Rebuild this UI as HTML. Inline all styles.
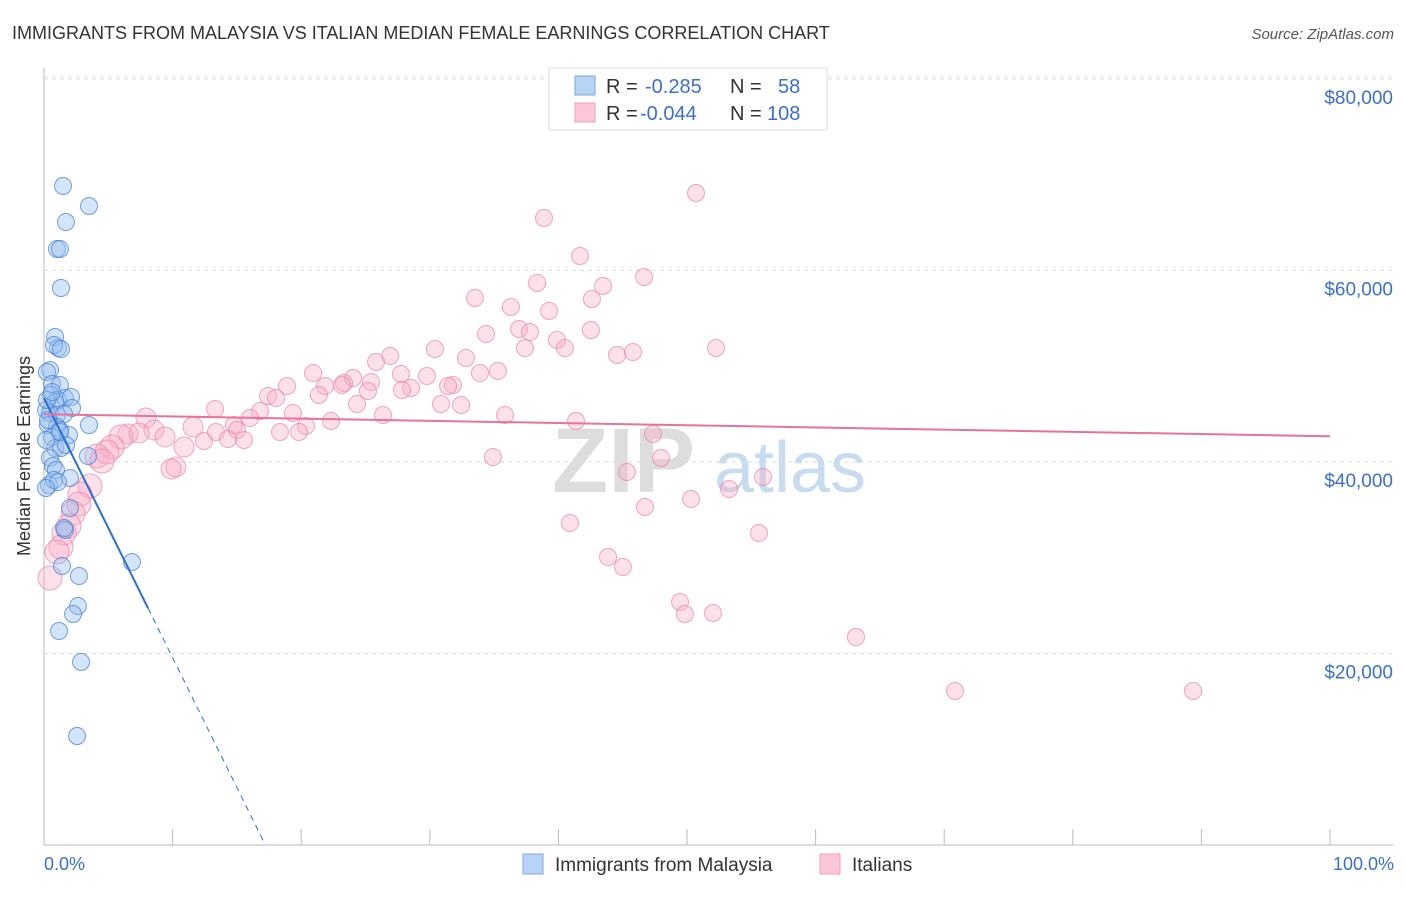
<!DOCTYPE html>
<html><head><meta charset="utf-8"><style>
body{margin:0;background:#fff;font-family:"Liberation Sans",sans-serif;}
svg text{font-family:"Liberation Sans",sans-serif;}
</style></head><body>
<svg id="chart" width="1406" height="892" viewBox="0 0 1406 892">
<text x="12" y="39" font-size="18" fill="#333">IMMIGRANTS FROM MALAYSIA VS ITALIAN MEDIAN FEMALE EARNINGS CORRELATION CHART</text>
<text x="1394" y="39" font-size="15" fill="#555" font-style="italic" text-anchor="end">Source: ZipAtlas.com</text>
<text x="30" y="456" font-size="18" fill="#333" text-anchor="middle" transform="rotate(-90 30 456)">Median Female Earnings</text>
<g id="grid"></g>
<g id="watermark">
<text x="552" y="492" font-size="92" fill="#ddd" font-family="Liberation Serif" font-weight="bold">ZIP</text>
<text x="714" y="492" font-size="72" fill="#c8dcf0">atlas</text>
</g>
<g id="axes"></g>
<g id="pink"></g>
<g id="blue"></g>
<g id="trends"></g>
<g>
<rect x="549" y="68" width="278" height="62" fill="#fff" stroke="#ddd"/>
<rect x="575" y="76" width="20" height="19" fill="#b8d4f4" stroke="#7aa8e0"/>
<rect x="575" y="103" width="20" height="19" fill="#fcc8d8" stroke="#f0a0b8"/>
<text x="606" y="93" font-size="20" fill="#333">R = </text><text x="645" y="93" font-size="20" fill="#3a70cc">-0.285</text>
<text x="730" y="93" font-size="20" fill="#333">N = </text><text x="778" y="93" font-size="20" fill="#3a70cc">58</text>
<text x="606" y="120" font-size="20" fill="#333">R = </text><text x="640" y="120" font-size="20" fill="#3a70cc">-0.044</text>
<text x="730" y="120" font-size="20" fill="#333">N = </text><text x="767" y="120" font-size="20" fill="#3a70cc">108</text>
</g>
<g>
<rect x="523" y="854" width="20" height="20" fill="#b8d4f4" stroke="#7aa8e0"/>
<text x="555" y="871" font-size="19" fill="#333">Immigrants from Malaysia</text>
<rect x="820" y="854" width="20" height="20" fill="#fcc8d8" stroke="#f0a0b8"/>
<text x="852" y="871" font-size="19" fill="#333">Italians</text>
</g>
<text x="44" y="870" font-size="18" fill="#3a70cc">0.0%</text>
<text x="1394" y="870" font-size="18" fill="#3a70cc" text-anchor="end">100.0%</text>
</svg>
<script>
const yTicks=[20000,40000,60000,80000];
const yTickLabels=["$20,000","$40,000","$60,000","$80,000"];
const xTicks=[0,10,20,30,40,50,60,70,80,90,100];
const bluePx=[[63,186],[66,222],[89,206],[57,249],[60,249],[61,288],[55,337],[58,348],[54,345],[61,349],[50,370],[47,372],[52,384],[60,385],[51,395],[58,400],[65,398],[71,397],[72,408],[55,402],[46,410],[50,413],[57,415],[64,414],[48,425],[57,427],[60,430],[69,435],[89,425],[52,437],[55,448],[61,448],[66,445],[50,458],[53,466],[56,470],[70,478],[49,485],[54,480],[58,482],[46,488],[88,456],[70,508],[65,530],[64,528],[62,566],[79,576],[78,606],[73,614],[59,631],[81,662],[77,736],[132,562],[46,440],[48,420],[47,400],[52,392],[60,432]];
const pinkPx=[[696,193],[544,218],[580,256],[644,277],[537,283],[603,286],[592,299],[475,298],[511,307],[549,311],[486,334],[519,329],[530,332],[591,330],[557,340],[525,348],[565,348],[435,349],[633,352],[617,355],[716,348],[390,356],[376,362],[466,358],[313,373],[498,371],[480,373],[401,374],[427,376],[353,378],[344,383],[325,386],[342,385],[371,382],[453,385],[287,386],[268,396],[411,388],[448,386],[368,391],[402,390],[276,398],[319,395],[357,404],[441,404],[461,405],[215,409],[260,411],[293,413],[505,415],[383,415],[576,421],[146,418],[250,418],[331,421],[306,426],[234,425],[193,427],[216,432],[237,430],[280,432],[299,432],[128,434],[154,430],[165,437],[121,437],[139,433],[228,439],[204,441],[184,447],[244,440],[112,447],[97,456],[107,452],[653,434],[493,457],[661,458],[176,467],[171,469],[627,472],[729,489],[763,477],[102,461],[90,486],[80,494],[79,504],[73,513],[69,526],[64,533],[61,547],[57,552],[50,578],[691,499],[645,507],[570,523],[759,533],[608,557],[623,567],[680,602],[685,614],[713,613],[856,637],[955,691],[1193,691]];
// data values (percent, dollars)
const blueX=bluePx.map(p=>+((p[0]-44)/12.86).toFixed(2));
const blueY=bluePx.map(p=>Math.round((845-p[1])*104.44));
const pinkX=pinkPx.map(p=>+((p[0]-44)/12.86).toFixed(2));
const pinkY=pinkPx.map(p=>Math.round((845-p[1])*104.44));
const blueTrend=[46670,-2711];
const pinkTrend=[44990,-23];
const NS="http://www.w3.org/2000/svg";
const sx=v=>44+v*12.86, sy=v=>845-v/104.44;
function mk(tag,attrs,parent){const e=document.createElementNS(NS,tag);for(const k in attrs)e.setAttribute(k,attrs[k]);parent.appendChild(e);return e;}
const grid=document.getElementById('grid');
yTicks.forEach((t,i)=>{
 const l=mk('line',{x1:44,x2:1393,y1:sy(t),y2:sy(t),stroke:'#ddd','stroke-dasharray':'4,4'},grid);
 
 
 const tx=mk('text',{x:1393,y:sy(t)+25,'font-size':19,fill:'#3a70cc','text-anchor':'end'},grid);
 tx.textContent=yTickLabels[i];
 
 
});
mk('line',{x1:44,x2:1393,y1:sy(80000)-2,y2:sy(80000)-2,stroke:'#e4e4e4','stroke-dasharray':'4,4'},grid);
const axes=document.getElementById('axes');
mk('line',{x1:44,x2:44,y1:68,y2:845,stroke:'#bbb'},axes);
mk('line',{x1:44,x2:1393,y1:845,y2:845,stroke:'#bbb'},axes);
xTicks.forEach(t=>{
 const l=mk('line',{x1:sx(t),x2:sx(t),y1:829,y2:845,stroke:'#bbb'},axes);
 
 
});
const pg=document.getElementById('pink');
pinkX.forEach((x,i)=>{
 const r=x<6?12:(x<12?10:8.5);
 const c=mk('circle',{cx:sx(x),cy:sy(pinkY[i]),r:r,fill:'rgba(248,170,195,0.35)',stroke:'rgba(235,130,165,0.7)','stroke-width':1},pg);
 
 
});
const bg=document.getElementById('blue');
blueX.forEach((x,i)=>{
 const c=mk('circle',{cx:sx(x),cy:sy(blueY[i]),r:8.5,fill:'rgba(150,190,240,0.4)',stroke:'rgba(70,130,215,0.75)','stroke-width':1},bg);
 
 
});
const tg=document.getElementById('trends');
const bEnd=8.09, bZero=-blueTrend[0]/blueTrend[1];
const bl=mk('line',{x1:sx(0),y1:sy(blueTrend[0]),x2:sx(bEnd),y2:sy(blueTrend[0]+blueTrend[1]*bEnd),stroke:'#2a6fd6','stroke-width':2},tg);


const bd=mk('line',{x1:sx(bEnd),y1:sy(blueTrend[0]+blueTrend[1]*bEnd),x2:sx(bZero),y2:sy(0),stroke:'#2a6fd6','stroke-width':1,'stroke-dasharray':'6,5'},tg);


const pl=mk('line',{x1:sx(0),y1:sy(pinkTrend[0]),x2:sx(100),y2:sy(pinkTrend[0]+pinkTrend[1]*100),stroke:'#e8729a','stroke-width':2},tg);


</script>
</body></html>
